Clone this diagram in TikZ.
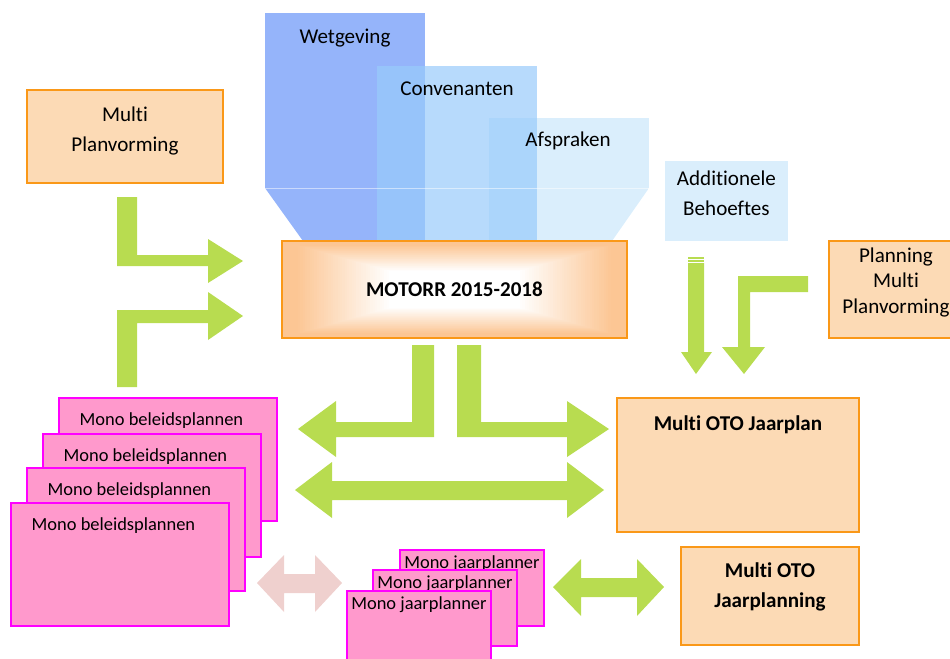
\documentclass[tikz,border=0pt]{standalone}
\usepackage{fontspec}
\setmainfont[Ligatures=NoCommon]{Carlito}
\usepackage{tikz}
\usetikzlibrary{calc,positioning,shapes}
\definecolor{peach}{RGB}{252,218,181}
\definecolor{orangeline}{RGB}{250,152,24}
\definecolor{motorrout}{RGB}{252,198,148}
\definecolor{monofill}{RGB}{255,153,204}
\definecolor{monoline}{RGB}{255,0,255}
\definecolor{arrowgreen}{RGB}{184,220,80}
\definecolor{arrowpink}{RGB}{239,208,206}
\definecolor{wetblue}{RGB}{149,180,250}
\definecolor{convblue}{RGB}{153,203,251}
\definecolor{afsblue}{RGB}{218,238,252}
\tikzstyle{block} = [rectangle, draw=orangeline, line width=1.1pt, fill=peach,
    anchor=north west, inner sep=0pt]
\tikzstyle{monoblock} = [rectangle, draw=monoline, line width=1.1pt, fill=monofill,
    anchor=north west, inner sep=0pt, minimum width=4.36cm, minimum height=2.46cm]
\tikzstyle{monojaar} = [monoblock, minimum width=2.88cm, minimum height=1.52cm]
\tikzstyle{txt} = [font=\fontsize{12}{17}\selectfont, align=center, inner sep=0pt]
\tikzstyle{boldtxt} = [txt, font=\bfseries\fontsize{12}{17}\selectfont]
\tikzstyle{monotxt} = [font=\fontsize{10.5}{13}\selectfont, inner sep=0pt]
\tikzstyle{bigarrow} = [fill=arrowgreen, draw=none]
\tikzstyle{palearrow} = [fill=arrowpink, draw=none]

\begin{document}
\begin{tikzpicture}[x=0.02cm, y=-0.02cm]
        \useasboundingbox (0,0) rectangle (950,659);
        \clip (0,0) rectangle (950,659);
        % Funnel
        \fill[wetblue] (265,13) rectangle (425,188);
        \fill[afsblue] (489,118) rectangle (649,188);
        \fill[convblue, fill opacity=0.71] (377,66) rectangle (537,188);
        \begin{scope}
            \clip (265,188) -- (649,188) -- (612,241) -- (303,241) -- cycle;
            \fill[wetblue] (265,188) rectangle (425,241);
            \fill[afsblue] (489,188) rectangle (649,241);
            \fill[convblue, fill opacity=0.71] (377,188) rectangle (537,241);
        \end{scope}
        \draw[white, opacity=0.5, line width=0.4pt] (265,188) -- (649,188);
        \node [txt] (Wetgeving) at (345,38) {Wetgeving};
        \node [txt] (Convenanten) at (457,89) {Convenanten};
        \node [txt] (Afspraken) at (568,141) {Afspraken};
        % Place nodes
        \node [block, fill=motorrout, minimum width=6.9cm, minimum height=1.94cm,
            font=\bfseries\fontsize{12}{14}\selectfont,
            path picture={
                \foreach \i in {0,...,40}{
                    \pgfmathsetmacro{\s}{0.92-\i*0.0135}
                    \pgfmathtruncatemacro{\p}{\i*2.5}
                    \fill[white!\p!motorrout]
                        ($(path picture bounding box.center)!\s!(path picture bounding box.north west)$)
                        rectangle
                        ($(path picture bounding box.center)!\s!(path picture bounding box.south east)$);
                }
            }] (Motorr) at (281,240) {MOTORR 2015-2018};
        \node [block, minimum width=3.92cm, minimum height=1.86cm,
            label={[txt, yshift=0.11cm]center:Multi\\Planvorming}] (MultiPlan) at (26,89) {};
        \node [block, draw=none, fill=afsblue, minimum width=2.46cm, minimum height=1.6cm,
            label={[txt, yshift=0.15cm]center:Additionele\\Behoeftes}] (Additioneel) at (664,160) {};
        \node [block, minimum width=2.68cm, minimum height=1.94cm,
            label={[txt, font=\fontsize{12}{14.5}\selectfont, yshift=0.14cm]center:Planning\\Multi\\Planvorming}] (PlanningMulti) at (828,240) {};
        \node [block, minimum width=4.84cm, minimum height=2.68cm,
            label={[boldtxt, yshift=0.81cm]center:Multi OTO Jaarplan}] (JaarPlan) at (616,397) {};
        \node [block, minimum width=3.56cm, minimum height=1.96cm,
            label={[boldtxt, yshift=0.18cm]center:Multi OTO\\Jaarplanning}] (JaarPlanning) at (680,546) {};
        \node [monoblock, label={[monotxt, xshift=-0.13cm, yshift=0.77cm]center:Mono beleidsplannen}] (Beleid1) at (58,397) {};
        \node [monoblock, label={[monotxt, xshift=-0.13cm, yshift=0.77cm]center:Mono beleidsplannen}] (Beleid2) at (42,433) {};
        \node [monoblock, label={[monotxt, xshift=-0.13cm, yshift=0.77cm]center:Mono beleidsplannen}] (Beleid3) at (26,467) {};
        \node [monoblock, label={[monotxt, xshift=-0.13cm, yshift=0.77cm]center:Mono beleidsplannen}] (Beleid4) at (10,502) {};
        \node [monojaar, label={[monotxt, yshift=0.49cm]center:Mono jaarplanner}] (Jaar1) at (399,549) {};
        \node [monojaar, label={[monotxt, yshift=0.49cm]center:Mono jaarplanner}] (Jaar2) at (372,569) {};
        \node [monojaar, label={[monotxt, yshift=0.49cm]center:Mono jaarplanner}] (Jaar3) at (346,590) {};
        % Draw arrows
        \fill[bigarrow] (117,197) -- (137,197) -- (137,255) -- (208,255) -- (208,239) -- (243,261)
            -- (208,283) -- (208,266) -- (117,266) -- cycle;
        \fill[bigarrow] (117,387) -- (117,310) -- (208,310) -- (208,292) -- (243,316) -- (208,340)
            -- (208,323) -- (137,323) -- (137,387) -- cycle;
        \fill[bigarrow] (412,345) -- (434,345) -- (434,437) -- (336,437) -- (336,457) -- (298,429)
            -- (336,401) -- (336,422) -- (412,422) -- cycle;
        \fill[bigarrow] (481,345) -- (457,345) -- (457,437) -- (567,437) -- (567,457) -- (609,429)
            -- (567,401) -- (567,422) -- (481,422) -- cycle;
        \fill[bigarrow] (295,490) -- (332,462) -- (332,481) -- (567,481) -- (567,462) -- (604,490)
            -- (567,518) -- (567,500) -- (332,500) -- (332,518) -- cycle;
        \fill[bigarrow] (688,257.3) rectangle (704,259);
        \fill[bigarrow] (688,260.3) rectangle (704,262);
        \fill[bigarrow] (688,263) -- (704,263) -- (704,352) -- (712,352) -- (696,374) -- (681,352)
            -- (688,352) -- cycle;
        \fill[bigarrow] (808,276) -- (808,292) -- (750,292) -- (750,347) -- (765,347) -- (744,374)
            -- (722,347) -- (738,347) -- (738,276) -- cycle;
        \fill[bigarrow] (553,587) -- (581,559) -- (581,578) -- (637,578) -- (637,559) -- (664,587)
            -- (637,616) -- (637,597) -- (581,597) -- (581,616) -- cycle;
        \fill[palearrow] (257,583) -- (284,555) -- (284,574) -- (315,574) -- (315,555) -- (342,583)
            -- (315,612) -- (315,593) -- (284,593) -- (284,612) -- cycle;
    \end{tikzpicture}
\end{document}
